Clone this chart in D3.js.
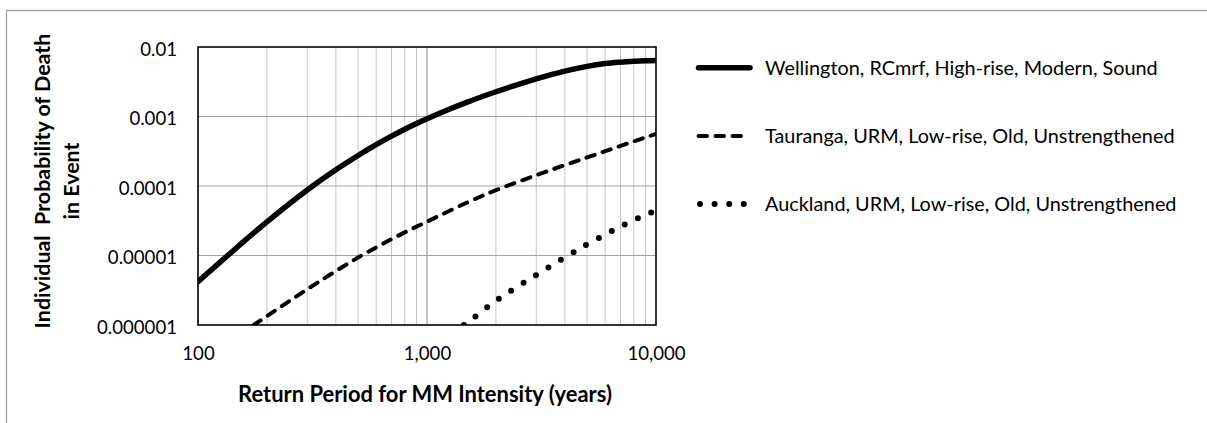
<!DOCTYPE html>
<html>
<head>
<meta charset="utf-8">
<script src="https://cdn.jsdelivr.net/npm/d3@7/dist/d3.min.js"></script>
<style>
  html, body { margin: 0; padding: 0; background: #fff; }
  svg { display: block; font-family: Lato, "Open Sans", sans-serif; }
</style>
</head>
<body>
<svg id="chart" width="1207" height="423"></svg>
<script>
// ---- data ----
const seriesNames = [
  "Wellington, RCmrf, High-rise, Modern, Sound",
  "Tauranga, URM, Low-rise, Old, Unstrengthened",
  "Auckland, URM, Low-rise, Old, Unstrengthened"
];
const wellingtonPeriods = [100,150,200,300,400,500,600,700,800,900,1000,1250,1500,2000,3000,4000,5000,6000,7000,8000,9000,10000];
const wellingtonValues  = [4.2e-6,1.36e-5,3.05e-5,8.75e-5,1.71e-4,2.75e-4,3.94e-4,5.21e-4,6.56e-4,7.93e-4,9.29e-4,1.27e-3,1.61e-3,2.27e-3,3.49e-3,4.5e-3,5.27e-3,5.78e-3,6.05e-3,6.22e-3,6.33e-3,6.4e-3];
const taurangaPeriods = [175,200,300,400,500,600,700,800,900,1000,1500,2000,3000,4000,5000,6000,7000,8000,9000,10000];
const taurangaValues  = [1.0e-6,1.34e-6,3.27e-6,5.98e-6,9.35e-6,1.31e-5,1.72e-5,2.15e-5,2.6e-5,3.07e-5,5.8e-5,8.7e-5,1.43e-4,2.0e-4,2.58e-4,3.17e-4,3.78e-4,4.39e-4,5.0e-4,5.6e-4];
const aucklandPeriods = [1450,1500,2000,3000,4000,5000,6000,7000,8000,9000,10000];
const aucklandValues  = [1.0e-6,1.08e-6,2.23e-6,5.25e-6,9.4e-6,1.45e-5,2.0e-5,2.61e-5,3.22e-5,3.86e-5,4.45e-5];

const xTickValues = [100, 1000, 10000];
const xTickLabels = ["100", "1,000", "10,000"];
const yTickValues = [1e-6, 1e-5, 1e-4, 1e-3, 1e-2];
const yTickLabels = ["0.000001", "0.00001", "0.0001", "0.001", "0.01"];
const xTitle = "Return Period for MM Intensity (years)";
const yTitleLines = ["Individual\u00A0 Probability of Death", "in Event"];

// ---- layout ----
const P = { left: 198, right: 656, top: 47, bottom: 325 };
const svg = d3.select("#chart");

// helper: scale font-size so a text node reaches a target width
function fitSize(sel, target, base) {
  sel.attr("font-size", base);
  const w = sel.node().getComputedTextLength();
  return base * target / w;
}

// outer chart frame (only top and left edges visible)
svg.append("path")
  .attr("d", "M6.5,424 L6.5,10.5 L1208,10.5")
  .attr("fill", "none").attr("stroke", "#a0a0a0").attr("stroke-width", 1.3);

const x = d3.scaleLog().domain([100, 10000]).range([P.left, P.right]);
const y = d3.scaleLog().domain([1e-6, 1e-2]).range([P.bottom, P.top]);

// minor vertical gridlines
const minorX = x.ticks().filter(v => !xTickValues.includes(v));
svg.append("g").selectAll("line").data(minorX).join("line")
  .attr("x1", d => x(d)).attr("x2", d => x(d))
  .attr("y1", P.top).attr("y2", P.bottom)
  .attr("stroke", "#c4c4c4").attr("stroke-width", 1);

// major vertical gridlines
svg.append("g").selectAll("line").data(xTickValues).join("line")
  .attr("x1", d => x(d)).attr("x2", d => x(d))
  .attr("y1", P.top).attr("y2", P.bottom)
  .attr("stroke", "#8c8c8c").attr("stroke-width", 1);

// horizontal gridlines
svg.append("g").selectAll("line").data(yTickValues).join("line")
  .attr("x1", P.left).attr("x2", P.right)
  .attr("y1", d => y(d)).attr("y2", d => y(d))
  .attr("stroke", "#a3a3a3").attr("stroke-width", 1);

// clip
svg.append("clipPath").attr("id", "plotclip")
  .append("rect").attr("x", P.left).attr("y", P.top)
  .attr("width", P.right - P.left).attr("height", P.bottom - P.top);

const line = d3.line().x(d => x(d[0])).y(d => y(d[1])).curve(d3.curveCatmullRom.alpha(0.5));
const series = [
  { pts: d3.zip(wellingtonPeriods, wellingtonValues), width: 5.5, dash: null },
  { pts: d3.zip(taurangaPeriods, taurangaValues), width: 4, dash: "8.5 8.5" },
  { pts: d3.zip(aucklandPeriods, aucklandValues), width: 6, dash: "0 14.6" }
];
const gLines = svg.append("g").attr("clip-path", "url(#plotclip)");
series.forEach(s => {
  gLines.append("path")
    .attr("d", line(s.pts))
    .attr("fill", "none").attr("stroke", "#000")
    .attr("stroke-width", s.width)
    .attr("stroke-linecap", "round")
    .attr("stroke-linejoin", "round")
    .attr("stroke-dasharray", s.dash);
});

// plot border
svg.append("rect")
  .attr("x", P.left).attr("y", P.top)
  .attr("width", P.right - P.left).attr("height", P.bottom - P.top)
  .attr("fill", "none").attr("stroke", "#000").attr("stroke-width", 1.5);

// tick label size fitted on the widest label
const probe = svg.append("text").text(yTickLabels[0]);
const tickSize = fitSize(probe, 80, 18);
probe.remove();

const xAxis = d3.axisBottom(x).tickValues(xTickValues)
  .tickFormat((d, i) => xTickLabels[i]).tickSize(0).tickPadding(35 - 0.71 * tickSize);
const gx = svg.append("g").attr("transform", `translate(0,${P.bottom})`).call(xAxis);
gx.select(".domain").remove();
gx.selectAll("text").attr("font-size", tickSize).attr("fill", "#000").attr("font-family", "Lato");

const yAxis = d3.axisLeft(y).tickValues(yTickValues)
  .tickFormat((d, i) => yTickLabels[i]).tickSize(0).tickPadding(21);
const gy = svg.append("g").attr("transform", `translate(${P.left},0)`).call(yAxis);
gy.select(".domain").remove();
gy.selectAll("text").attr("font-size", tickSize).attr("fill", "#000")
  .attr("font-family", "Lato").attr("dy", (8 / tickSize) + "em");

// axis titles
const xt = svg.append("text")
  .attr("x", (P.left + P.right) / 2 - 2).attr("y", 402)
  .attr("text-anchor", "middle").attr("font-weight", "bold").text(xTitle);
xt.attr("font-size", fitSize(xt, 374, 18));

const yt = svg.append("text")
  .attr("transform", "translate(0,181) rotate(-90)")
  .attr("text-anchor", "middle").attr("font-weight", "bold");
yt.selectAll("tspan").data(yTitleLines).join("tspan")
  .attr("x", 0).attr("y", (d, i) => 50 + i * 29)
  .text(d => d);
yt.attr("font-size", 18);
const ytw = yt.select("tspan").node().getComputedTextLength();
yt.attr("font-size", 18 * 295 / ytw);

// legend
const legendY = [67.7, 136, 204];
const lg = svg.append("g");
const legendTexts = [];
series.forEach((s, i) => {
  const isDot = s.dash && s.dash.startsWith("0");
  const x1 = isDot ? 700 : 698.5;
  const x2 = isDot ? 744 : (s.dash ? 743 : 750);
  lg.append("line")
    .attr("x1", x1).attr("x2", x2)
    .attr("y1", legendY[i]).attr("y2", legendY[i])
    .attr("stroke", "#000").attr("stroke-width", s.width)
    .attr("stroke-linecap", "round").attr("stroke-dasharray", s.dash);
  legendTexts.push(lg.append("text")
    .attr("x", 765).attr("y", legendY[i]).attr("dy", "0.36em")
    .attr("fill", "#000").text(seriesNames[i]));
});
const legendSize = fitSize(legendTexts[0], 393, 18);
legendTexts.forEach(t => t.attr("font-size", legendSize));
</script>
</body>
</html>
